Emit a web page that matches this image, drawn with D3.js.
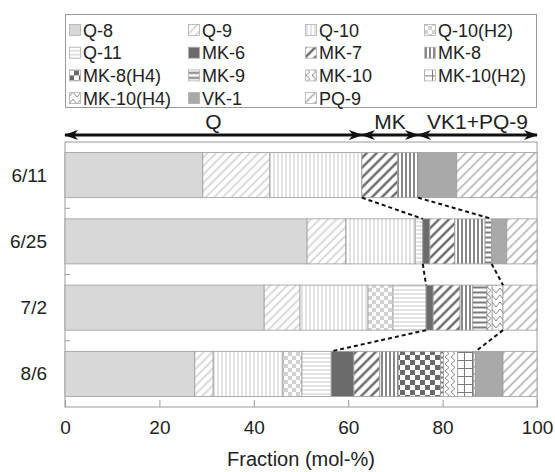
<!DOCTYPE html>
<html><head><meta charset="utf-8">
<script src="https://cdn.jsdelivr.net/npm/d3@7"></script>
<style>body{margin:0;background:#fff;} svg{display:block;font-family:"Liberation Sans",Arial,sans-serif;}</style>
</head><body>
<svg id="chart" width="555" height="472"></svg>
<script>
const dates = ["6/11", "6/25", "7/2", "8/6"];
const species = ["Q-8","Q-9","Q-10","Q-10(H2)","Q-11","MK-6","MK-7","MK-8","MK-8(H4)","MK-9","MK-10","MK-10(H2)","MK-10(H4)","VK-1","PQ-9"];
// mol-% per date, in species order
const v0611 = [29.2, 14.2, 19.5, 0,   0,   0,   7.6, 4.3, 0,   0,   0,   0,   0,   8.2, 17.0];
const v0625 = [51.3, 8.2, 14.7, 0,   1.6, 1.5, 5.3, 6.4, 0,   1.4, 0,   0,   0,   3.2, 6.4];
const v0702 = [42.2, 7.6, 14.4, 5.3, 7.0, 1.5, 5.7, 2.7, 0,   3.0, 1.1, 0,   2.3, 0,   7.2];
const v0806 = [27.5, 3.9, 14.8, 4.0, 6.2, 4.8, 5.5, 3.9, 9.0, 0.6, 3.0, 3.4, 0.4, 5.8, 7.2];
const seriesValues = [v0611, v0625, v0702, v0806];
const groupNames = ["Q", "MK", "VK1+PQ-9"];
const groupOf = ["Q","Q","Q","Q","Q","MK","MK","MK","MK","MK","MK","MK","MK","VK1+PQ-9","VK1+PQ-9"];
const xTicks = [0, 20, 40, 60, 80, 100];
const xTitle = "Fraction (mol-%)";

const svg = d3.select("#chart");
const L = 65, R = 537, T = 142, B = 407;
const x = d3.scaleLinear().domain([0, 100]).range([L, R]);
const y = d3.scaleBand().domain(dates).range([T, B]).paddingInner(0.32).paddingOuter(0.16);

// patterns
const defs = svg.append("defs");
function pat(id, w, h, draw, transform) {
  const p = defs.append("pattern").attr("id", id).attr("patternUnits", "userSpaceOnUse")
    .attr("width", w).attr("height", h);
  if (transform) p.attr("patternTransform", transform);
  p.append("rect").attr("width", w).attr("height", h).attr("fill", "#fff");
  draw(p);
}
function diag(id, s, color, sw) {
  pat(id, s, s, p => p.append("line").attr("x1", s/2).attr("y1", 0).attr("x2", s/2).attr("y2", s)
    .attr("stroke", color).attr("stroke-width", sw), "rotate(45)");
}
function vert(id, s, color, sw) {
  pat(id, s, s, p => p.append("line").attr("x1", s/2).attr("y1", 0).attr("x2", s/2).attr("y2", s)
    .attr("stroke", color).attr("stroke-width", sw));
}
function horiz(id, s, color, sw) {
  pat(id, s, s, p => p.append("line").attr("x1", 0).attr("y1", s/2).attr("x2", s).attr("y2", s/2)
    .attr("stroke", color).attr("stroke-width", sw));
}
function checker(id, s, color) {
  pat(id, 2*s, 2*s, p => {
    p.append("rect").attr("x", 0).attr("y", 0).attr("width", s).attr("height", s).attr("fill", color);
    p.append("rect").attr("x", s).attr("y", s).attr("width", s).attr("height", s).attr("fill", color);
  });
}
diag("p1", 6, "#c4c4c4", 1.2);
vert("p2", 4, "#c8c8c8", 1);
checker("p3", 4, "#d2d2d2");
horiz("p4", 4, "#c8c8c8", 1);
diag("p6", 7, "#5a5a5a", 2.2);
vert("p7", 4, "#6a6a6a", 1.6);
checker("p8", 5, "#6a6a6a");
horiz("p9", 5, "#7a7a7a", 2);
pat("p10", 6, 7, p => p.append("path").attr("d", "M1,0 L5,3.5 L1,7").attr("fill", "none")
  .attr("stroke", "#8a8a8a").attr("stroke-width", 1));
pat("p11", 8, 8, p => {
  p.append("line").attr("x1", 0).attr("y1", 0.5).attr("x2", 8).attr("y2", 0.5).attr("stroke", "#7a7a7a");
  p.append("line").attr("x1", 0.5).attr("y1", 0).attr("x2", 0.5).attr("y2", 8).attr("stroke", "#7a7a7a");
});
pat("p12", 8, 7, p => p.append("path").attr("d", "M0,6 L4,1 L8,6").attr("fill", "none")
  .attr("stroke", "#8a8a8a").attr("stroke-width", 1));
diag("p14", 7, "#ababab", 1.5);

const fills = ["#d8d8d8", "url(#p1)", "url(#p2)", "url(#p3)", "url(#p4)", "#6b6b6b", "url(#p6)",
  "url(#p7)", "url(#p8)", "url(#p9)", "url(#p10)", "url(#p11)", "url(#p12)", "#a9a9a9", "url(#p14)"];
const color = d3.scaleOrdinal().domain(species).range(fills);

// legend
const lg = svg.append("g");
lg.append("rect").attr("x", 65.5).attr("y", 14.5).attr("width", 471).attr("height", 93)
  .attr("fill", "#fff").attr("stroke", "#9a9a9a");
const colX = [69, 188, 305, 424];
species.forEach((s, i) => {
  const c = i % 4, r = Math.floor(i / 4);
  const g = lg.append("g").attr("transform", `translate(${colX[c]},${30 + r * 22.7})`);
  g.append("rect").attr("x", 0.5).attr("y", -5.5).attr("width", 11).attr("height", 11)
    .attr("fill", color(s)).attr("stroke", "#b0b0b0").attr("stroke-width", 0.8);
  g.append("text").attr("x", 14).attr("y", 6.5).attr("font-size", 18).attr("fill", "#222").text(s);
});

// plot frame
svg.append("rect").attr("x", L).attr("y", T).attr("width", R - L).attr("height", B - T)
  .attr("fill", "#fff").attr("stroke", "#9a9a9a").attr("stroke-width", 1);

// stacked bars
const rows = dates.map((d, i) => {
  const o = { date: d };
  species.forEach((s, j) => o[s] = seriesValues[i][j]);
  return o;
});
const stacked = d3.stack().keys(species)(rows);
svg.append("g").selectAll("g").data(stacked).join("g")
  .attr("fill", d => color(d.key))
  .selectAll("rect").data(d => d.filter(e => e[1] - e[0] > 0)).join("rect")
  .attr("x", d => x(d[0])).attr("y", d => y(d.data.date))
  .attr("width", d => x(d[1]) - x(d[0])).attr("height", y.bandwidth())
  .attr("stroke", "#9c9c9c").attr("stroke-width", 0.8);

// y ticks between categories (inward)
const step = y.step();
const yg = svg.append("g");
dates.slice(1).forEach(d => {
  const yy = y(d) - (step - y.bandwidth()) / 2;
  yg.append("line").attr("x1", L).attr("x2", L + 5).attr("y1", yy).attr("y2", yy)
    .attr("stroke", "#9a9a9a");
});
yg.selectAll("text").data(dates).join("text")
  .attr("x", 47).attr("y", d => y(d) + y.bandwidth() / 2 + 6.5)
  .attr("text-anchor", "end").attr("font-size", 19).attr("fill", "#222").text(d => d);

// x axis
const xa = svg.append("g").attr("transform", `translate(0,${B})`)
  .call(d3.axisBottom(x).tickValues(xTicks).tickSizeInner(-7).tickSizeOuter(0).tickPadding(14));
xa.select(".domain").remove();
xa.selectAll(".tick line").attr("stroke", "#9a9a9a");
xa.selectAll(".tick text").attr("font-size", 19).attr("fill", "#222")
  .attr("font-family", "Liberation Sans, Arial, sans-serif");
svg.append("text").attr("x", (L + R) / 2).attr("y", 466).attr("text-anchor", "middle")
  .attr("font-size", 20).attr("fill", "#222").text(xTitle);

// group extents from first bar
const first = seriesValues[0];
const groupExt = groupNames.map(g => {
  let start = 0;
  for (let j = 0; j < species.length && groupOf[j] !== g; j++) start += first[j];
  let total = d3.sum(species.map((s, j) => groupOf[j] === g ? first[j] : 0));
  return { name: g, from: start, to: start + total };
});
defs.append("marker").attr("id", "ah").attr("viewBox", "0 0 14 10").attr("refX", 13).attr("refY", 5)
  .attr("markerWidth", 14).attr("markerHeight", 10).attr("markerUnits", "userSpaceOnUse")
  .attr("orient", "auto-start-reverse")
  .append("path").attr("d", "M0,0 L14,5 L0,10 L4,5 Z").attr("fill", "#111");
const ay = 135;
const ag = svg.append("g");
groupExt.forEach(g => {
  ag.append("line").attr("x1", x(g.from)).attr("x2", x(g.to)).attr("y1", ay).attr("y2", ay)
    .attr("stroke", "#111").attr("stroke-width", 3)
    .attr("marker-start", "url(#ah)").attr("marker-end", "url(#ah)");
  ag.append("text").attr("x", (x(g.from) + x(g.to)) / 2).attr("y", 129).attr("text-anchor", "middle")
    .attr("font-size", 21).attr("fill", "#222").text(g.name);
});

// dashed connectors for MK region
function mkRange(vals) {
  let s = 0, e = 0;
  species.forEach((sp, j) => {
    if (groupOf[j] === "Q") s += vals[j];
    if (groupOf[j] !== "VK1+PQ-9") e += vals[j];
  });
  return [s, e];
}
const dg = svg.append("g");
for (let i = 0; i < dates.length - 1; i++) {
  const a = mkRange(seriesValues[i]), b = mkRange(seriesValues[i + 1]);
  const y1 = y(dates[i]) + y.bandwidth(), y2 = y(dates[i + 1]);
  [0, 1].forEach(k => {
    dg.append("line").attr("x1", x(a[k])).attr("y1", y1).attr("x2", x(b[k])).attr("y2", y2)
      .attr("stroke", "#111").attr("stroke-width", 2).attr("stroke-dasharray", "4,3");
  });
}
</script>
</body></html>
